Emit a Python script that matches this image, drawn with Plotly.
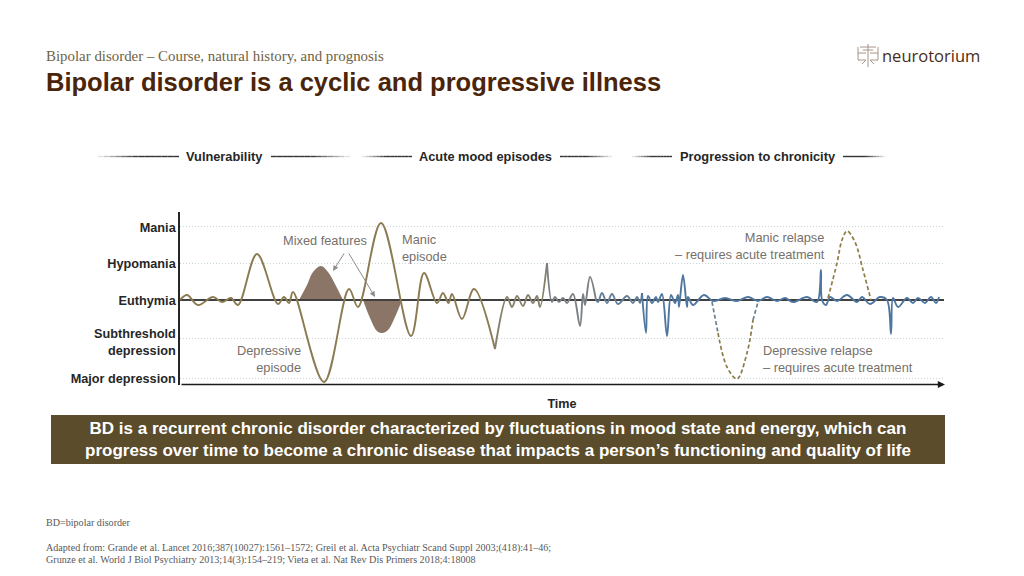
import plotly.graph_objects as go

# ---------- data ----------
mood_levels = ["Mania", "Hypomania", "Euthymia", "Subthreshold<br>depression", "Major depression"]
mood_label_values = [72, 36, -1, -42, -79]
mood_grid_values = [74, 37, -38, -78]

time_points = [0,7,18,33,42,51,58,77,98,104,109,113,144,169,178,201,231,244,257,263,268.5,272,282,294,315,
               327,332,337,343,348,353,357,360,367,372,375,379,383,387,393,400,403,405,410,416,418,422,427,432,438,
               447,453,457,460,462,466,468,472,476,478,482,487,491,495,498,499,503,507,508,513,524,533,545,557,568,
               578,587,597,605,613,627,637,641,642,646,650,657,667,677,682,690,700,707,711,713,718,727,733,738,745,751,756,759]
mood_points = [0,5,-5,3,-2,2,-5,46,-4,3,-3,8,-82,11,-7,77,-36,27,-3,7,-3,6,-19,11,-49,
               3,-7,4,-6,5,-3,4,-7,37,-2,3,-2,2,-3,6,-26,6,-5,23,0,-2,7,-3,6,-4,
               4,-3,3,-3,7,-33,4,-3,3,-2,6,-36,5,-3,5,-7,25,-7,3,-5,5,-1,2,-1,3,
               -1,3,-1,2,-2,3,-2,30,0,-5,3,-1,5,-2,3,-4,3,0,-34,2,-7,2,-3,2,-3,3,-3,3]

# colour bands along the course: (first time, last time, colour)
course_bands = [(0,315,"#8a7b52"),(315,367,"#858069"),(367,416,"#7b8085"),(416,462,"#657f99"),(462,759,"#4f769f")]

mixed_up_t = [119,127,133,141,148,156,163]
mixed_up_y = [0,15,28,34,28,14,0]
mixed_down_t = [183,190,197,202,208,215,222]
mixed_down_y = [0,-18,-31,-33,-30,-17,0]

dep_relapse_t = [532,538,547,557,567,573,578]
dep_relapse_y = [-2,-33,-67,-79,-53,-20,-2]
man_relapse_t = [648,657,662,667,675,683,691]
man_relapse_y = [2,37,60,69,58,30,0]

header_labels = ["Vulnerability", "Acute mood episodes", "Progression to chronicity"]
BROWN = "#4a2509"

W, H = 1024, 576
L, R, T, B = 180, 944, 212, 385
def px(x): return (x - L) / (R - L)
def py(y): return (B - y) / (B - T)

fig = go.Figure()

# fills
for tx, ty in [(mixed_up_t, mixed_up_y), (mixed_down_t, mixed_down_y)]:
    fig.add_trace(go.Scatter(x=tx, y=ty, mode="none", fill="tozeroy", fillcolor="#8b7566",
                             line=dict(shape="spline"), hoverinfo="skip", showlegend=False))

# euthymia baseline
fig.add_trace(go.Scatter(x=[-2, 765], y=[0, 0], mode="lines", line=dict(color="#404040", width=2),
                         cliponaxis=False, hoverinfo="skip", showlegend=False))

# course in colour bands
for t0, t1, col in course_bands:
    idx = [i for i, t in enumerate(time_points) if t0 <= t <= t1]
    fig.add_trace(go.Scatter(x=[time_points[i] for i in idx], y=[mood_points[i] for i in idx], mode="lines",
                             line=dict(color=col, width=1.9, shape="spline", smoothing=1.0),
                             cliponaxis=False, hoverinfo="skip", showlegend=False))

# relapses
for tx, ty, col in [(dep_relapse_t[:2], dep_relapse_y[:2], "#6b8090"), (dep_relapse_t[1:6], dep_relapse_y[1:6], "#8a7b48"),
                    (dep_relapse_t[5:], dep_relapse_y[5:], "#6b8090"), (man_relapse_t, man_relapse_y, "#8f7c48")]:
    fig.add_trace(go.Scatter(x=tx, y=ty, mode="lines", line=dict(color=col, width=1.7, dash="4px,2.5px", shape="spline"),
                             cliponaxis=False, hoverinfo="skip", showlegend=False))

shapes = []
# banner
shapes.append(dict(type="rect", xref="paper", yref="paper", x0=px(51), x1=px(945), y0=py(464), y1=py(415),
                   fillcolor="#5b4c2c", line=dict(width=0)))
# header lines with fading ends
def fade(x_dark, x_light, y=156.5, steps=14):
    for i in range(steps):
        a = i / steps
        f = min(1, (1 - a) * 1.9)
        v = int(255 - (255 - 50) * f)
        shapes.append(dict(type="line", xref="paper", yref="paper",
                           x0=px(x_dark + (x_light - x_dark) * a), x1=px(x_dark + (x_light - x_dark) * (a + 1 / steps)),
                           y0=py(y), y1=py(y), line=dict(color=f"rgb({v},{v},{v})", width=1.4)))
for a, b in [(179,98),(271,350),(412,362),(560,612),(672,632),(843,885)]:
    fade(a, b)
# logo mark
logo_col = "#a89488"
for x0, y0, x1, y1 in [(868,44,868,67),(860,47,876,47),(858,53,866,53),(870,53,878,53),(858,47,858,60),(878,47,878,60),
                       (858,60,866,60),(870,60,878,60),(862,64,866,60),(874,64,870,60),(863,50,873,50)]:
    shapes.append(dict(type="line", xref="paper", yref="paper", x0=px(x0), x1=px(x1), y0=py(y0), y1=py(y1),
                       line=dict(color=logo_col, width=1)))

anns = []
def text(x, y, s, size=12.8, color="#77706a", anchor="left", font="Liberation Sans", bold=False, align=None):
    anns.append(dict(xref="paper", yref="paper", x=px(x), y=py(y), text=f"<b>{s}</b>" if bold else s, showarrow=False,
                     xanchor=anchor, yanchor="middle", align=align or anchor, borderpad=0, borderwidth=0,
                     font=dict(family=font, size=size, color=color)))

text(46, 55.5, "Bipolar disorder – Course, natural history, and prognosis", 14.9, "#6f6243", font="Liberation Serif")
text(46, 82, "Bipolar disorder is a cyclic and progressive illness", 25.5, BROWN, bold=True)
text(882, 55, "neurotorium", 16.5, "#4a2c17", font="Open Sans")
for x, s in zip([224.5, 485.5, 757.5], header_labels):
    text(x, 156, s, 12.8, "#262626", "center", bold=True)
text(325, 240, "Mixed features", anchor="center")
text(402, 247.5, "Manic<br>episode")
text(301, 358.5, "Depressive<br>episode", anchor="right")
text(825, 246, "Manic relapse<br>– requires acute treatment", anchor="right")
text(763, 358.5, "Depressive relapse<br>– requires acute treatment")
text(498, 439.5, "BD is a recurrent chronic disorder characterized by fluctuations in mood state and energy, which can<br>"
     "progress over time to become a chronic disease that impacts a person’s functioning and quality of life",
     17, "#ffffff", "center", bold=True)
text(46, 522, "BD=bipolar disorder", 10.1, "#595959", font="Liberation Serif")
text(46, 547.5, "Adapted from: Grande et al. Lancet 2016;387(10027):1561–1572; Greil et al. Acta Psychiatr Scand Suppl 2003;(418):41–46;",
     10.1, "#595959", font="Liberation Serif")
text(46, 559.5, "Grunze et al. World J Biol Psychiatry 2013;14(3):154–219; Vieta et al. Nat Rev Dis Primers 2018;4:18008",
     10.1, "#595959", font="Liberation Serif")

# arrows
for x0, y0, x1, y1, col, w in [(345,252,333,271,"#8c8c8c",1), (348,252,375,297,"#8c8c8c",1), (180,384.5,945,384.5,"#1a1a1a",1.6)]:
    anns.append(dict(xref="paper", yref="paper", axref="pixel", ayref="pixel", x=px(x1), y=py(y1), ax=x0 - x1, ay=y0 - y1,
                     text="", showarrow=True, arrowhead=2, arrowsize=1.1 if w == 1 else 0.9, arrowwidth=w, arrowcolor=col))

fig.update_layout(
    width=W, height=H, autosize=False, margin=dict(l=L, r=W - R, t=T, b=H - B),
    paper_bgcolor="white", plot_bgcolor="white", showlegend=False, shapes=shapes, annotations=anns,
    xaxis=dict(range=[0, R - L], showgrid=False, zeroline=False, showticklabels=False, ticks="", showline=False,
               title=dict(text="<b>Time</b>", font=dict(family="Liberation Sans", size=12.6, color="#262626"), standoff=14)),
    yaxis=dict(range=[-85, 88], tickmode="array", tickvals=mood_label_values, ticktext=[f"<b>{s}</b>" for s in mood_levels],
               tickfont=dict(family="Liberation Sans", size=12.7, color="#262626"), ticks="", ticklabelstandoff=0,
               showgrid=False, zeroline=False, showline=True, linecolor="#262626", linewidth=1.5,
               minor=dict(tickmode="array", tickvals=mood_grid_values, showgrid=True, gridcolor="#c6d6d2",
                          griddash="1px,2px", gridwidth=1, ticks="")),
)

fig.write_html("out.html", config=dict(displayModeBar=False),
               post_script="document.body.style.margin='0';document.body.style.overflow='hidden';")
